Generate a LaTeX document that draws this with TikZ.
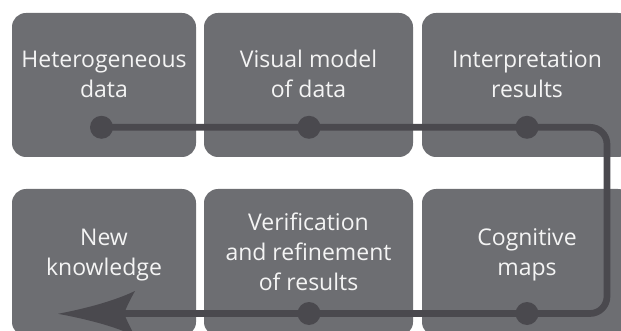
\documentclass[tikz,border=0pt]{standalone}
\usepackage{fontspec}
\setmainfont{Open Sans}
\definecolor{boxgray}{HTML}{6D6E72}
\definecolor{flowgray}{HTML}{4A494E}
\definecolor{labelwhite}{HTML}{F4F4F4}
\begin{document}
\begin{tikzpicture}[x=1pt,y=-1pt,
  stage/.style={fill=boxgray, rounded corners=14pt, inner sep=0pt},
  toprow/.style={stage, minimum height=144pt},
  botrow/.style={stage, minimum height=147pt},
  caption/.style={text=labelwhite, align=center, anchor=base, inner sep=0pt,
    font=\fontsize{23}{30}\selectfont},
  flow/.style={draw=flowgray, line width=6.7pt, rounded corners=17pt},
  dot/.style={circle, fill=flowgray, inner sep=0pt, minimum size=23pt}]
\useasboundingbox (0,0) rectangle (621,331);
\clip (0,0) rectangle (621,331);

% stage boxes
\node[toprow, minimum width=184pt] (b1) at (104,85) {};
\node[toprow, minimum width=209pt] (b2) at (308.5,85) {};
\node[toprow, minimum width=210pt] (b3) at (527,85) {};
\node[botrow, minimum width=184pt] (b4) at (104,262.5) {};
\node[botrow, minimum width=209pt] (b5) at (308.5,262.5) {};
\node[botrow, minimum width=210pt] (b6) at (527,262.5) {};

% points of the flow line
\coordinate (p1) at (101.5,127.3);
\coordinate (p2) at (309,127.3);
\coordinate (p3) at (527,127.3);
\coordinate (p4) at (527,313.5);
\coordinate (p5) at (309,313.5);
\coordinate (turnA) at (607,127.3);
\coordinate (turnB) at (607,313.5);
\coordinate (notch) at (124,313.5);
\coordinate (tip) at (58,313.8);
\coordinate (barbU) at (135,291);
\coordinate (barbL) at (135,336);

% flow line with its slightly concave arrowhead
\draw[flow] (p1) -- (turnA) -- (turnB) -- (notch);
\fill[flowgray] (tip) .. controls (86,308.5) and (114,301) .. (barbU)
  .. controls (131,298) and (127,306) .. (notch)
  .. controls (127,321) and (131,329) .. (barbL)
  .. controls (114,326) and (86,319) .. (tip) -- cycle;

% dots on the flow line
\node[dot] (d1) at (p1) {};
\node[dot] (d2) at (p2) {};
\node[dot] (d3) at (p3) {};
\node[dot] (d4) at (p4) {};
\node[dot] (d5) at (p5) {};

% captions (anchored at the baseline of the last line)
\node[caption] (t1) at (104,98) {Heterogeneous\\data};
\node[caption] (t2) at (308.5,98) {Visual model\\of data};
\node[caption] (t3) at (527,98) {Interpretation\\results};
\node[caption] (t4) at (104,275) {New\\knowledge};
\node[caption] (t5) at (308.5,290) {Verification\\and refinement\\of results};
\node[caption] (t6) at (527,275) {Cognitive\\maps};
\end{tikzpicture}
\end{document}
